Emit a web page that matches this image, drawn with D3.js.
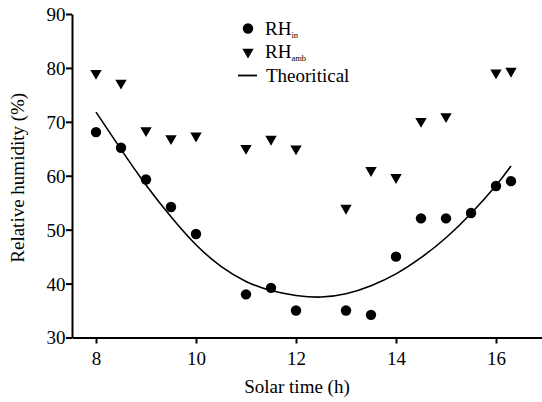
<!DOCTYPE html>
<html>
<head>
<meta charset="utf-8">
<script src="https://cdn.jsdelivr.net/npm/d3@7"></script>
<style>
  html, body { margin: 0; padding: 0; background: #fff; }
  svg { display: block; }
  svg text { font-family: "Liberation Serif", "Times New Roman", serif !important; fill: #000; }
</style>
</head>
<body>
<svg id="chart" width="542" height="402"></svg>
<script>
// ---- data ----
const timesIn = [8, 8.5, 9, 9.5, 10, 11, 11.5, 12, 13, 13.5, 14, 14.5, 15, 15.5, 16, 16.3];
const rhIn    = [68.1, 65.2, 59.3, 54.2, 49.2, 38.0, 39.2, 35.0, 35.0, 34.2, 45.0, 52.1, 52.1, 53.1, 58.1, 59.0];
const timesAmb = [8, 8.5, 9, 9.5, 10, 11, 11.5, 12, 13, 13.5, 14, 14.5, 15, 16, 16.3];
const rhAmb    = [79.0, 77.2, 68.4, 66.9, 67.4, 65.1, 66.8, 65.0, 54.0, 61.0, 59.7, 70.1, 71.0, 79.1, 79.4];
const theoTimes = [8, 8.5, 9, 9.5, 10, 10.5, 11, 11.5, 12, 12.5, 13, 13.5, 14, 14.5, 15, 15.5, 16, 16.3];
const theoRH    = [71.8, 64.9, 58.3, 52.4, 47.2, 43.2, 40.4, 38.7, 37.8, 37.5, 38.1, 39.6, 41.8, 44.8, 48.5, 53.0, 58.2, 61.8];
const xTicks = [8, 10, 12, 14, 16];
const yTicks = [30, 40, 50, 60, 70, 80, 90];

// ---- layout ----
const FONT = '"Liberation Serif", "Times New Roman", serif';
const FS = 19;
const svg = d3.select("#chart");
const x = d3.scaleLinear().domain([7.52, 16.92]).range([72, 542]);
const y = d3.scaleLinear().domain([30, 90]).range([337.5, 14]);

// axes
const xAxis = svg.append("g")
  .attr("transform", `translate(0,${y(30)})`)
  .call(d3.axisBottom(x).tickValues(xTicks).tickFormat(d3.format("d")).tickSize(6).tickSizeOuter(0).tickPadding(8));
const yAxis = svg.append("g")
  .attr("transform", `translate(${x(7.52)},0)`)
  .call(d3.axisLeft(y).tickValues(yTicks).tickFormat(d3.format("d")).tickSize(6).tickSizeOuter(0).tickPadding(0.5));

[xAxis, yAxis].forEach(g => {
  g.attr("font-family", FONT);
  g.select(".domain").attr("stroke", "#000").attr("stroke-width", 2);
  g.selectAll(".tick line").attr("stroke", "#000").attr("stroke-width", 2);
  g.selectAll(".tick text").attr("font-size", FS).style("font-family", FONT).attr("fill", "#000");
});
yAxis.selectAll(".tick text").attr("dy", "0.34em");

// axis titles
svg.append("text")
  .attr("x", 297).attr("y", 393)
  .attr("text-anchor", "middle").attr("font-size", FS).style("font-family", FONT)
  .text("Solar time (h)");
svg.append("text")
  .attr("transform", `translate(24,${(y(30) + y(90)) / 2 + 2}) rotate(-90)`)
  .attr("text-anchor", "middle").attr("font-size", FS).style("font-family", FONT)
  .text("Relative humidity (%)");

// theoretical curve
const line = d3.line().x(d => x(d[0])).y(d => y(d[1])).curve(d3.curveNatural);
svg.append("path")
  .datum(theoTimes.map((t, i) => [t, theoRH[i]]))
  .attr("d", line)
  .attr("fill", "none").attr("stroke", "#000").attr("stroke-width", 1.6);

// RH_amb triangles (downward)
const tri = d3.symbol().type(d3.symbolTriangle).size(56);
svg.append("g").selectAll("path")
  .data(timesAmb.map((t, i) => [t, rhAmb[i]]))
  .join("path")
  .attr("d", tri)
  .attr("transform", d => `translate(${x(d[0])},${y(d[1])}) rotate(180)`)
  .attr("fill", "#000");

// RH_in circles
svg.append("g").selectAll("circle")
  .data(timesIn.map((t, i) => [t, rhIn[i]]))
  .join("circle")
  .attr("cx", d => x(d[0])).attr("cy", d => y(d[1]))
  .attr("r", 5.2).attr("fill", "#000");

// legend
const leg = svg.append("g").style("font-family", FONT);
leg.append("circle").attr("cx", 248).attr("cy", 28.5).attr("r", 5.2).attr("fill", "#000");
leg.append("path").attr("d", tri).attr("transform", "translate(248,52) rotate(180)").attr("fill", "#000");
leg.append("line").attr("x1", 238).attr("x2", 257).attr("y1", 75.5).attr("y2", 75.5)
  .attr("stroke", "#000").attr("stroke-width", 1.8);

const t1 = leg.append("text").attr("x", 265).attr("y", 34.5).attr("font-size", FS);
t1.append("tspan").text("RH");
t1.append("tspan").attr("font-size", 8.5).attr("dy", 3).text("in");
const t2 = leg.append("text").attr("x", 265).attr("y", 58).attr("font-size", FS);
t2.append("tspan").text("RH");
t2.append("tspan").attr("font-size", 8.5).attr("dy", 3).text("amb");
leg.append("text").attr("x", 266).attr("y", 81.5).attr("font-size", FS).text("Theoritical");
</script>
</body>
</html>
